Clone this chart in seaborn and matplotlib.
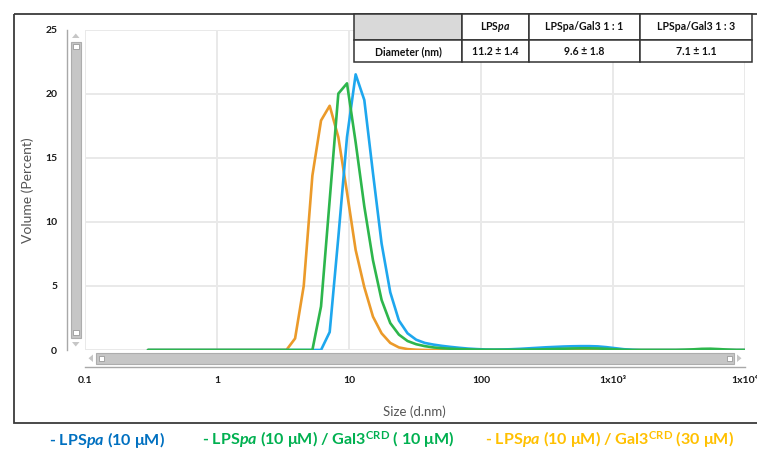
import numpy as np
import pandas as pd
import matplotlib
matplotlib.use("Agg")
import matplotlib.pyplot as plt
import seaborn as sns
from matplotlib.patches import Rectangle, Polygon

# size classes (d.nm) and volume distributions (%)
sizes = [0.3, 0.3489, 0.4057, 0.4718, 0.5487, 0.6381, 0.742, 0.8629, 1.004, 1.167,
         1.357, 1.578, 1.835, 2.134, 2.482, 2.887, 3.357, 3.904, 4.54, 5.279,
         6.139, 7.14, 8.303, 9.656, 11.23, 13.06, 15.19, 17.66, 20.54, 23.88,
         27.77, 32.3, 37.56, 43.68, 50.8, 59.07, 68.7, 79.89, 92.91, 108.0,
         125.6, 146.1, 169.9, 197.6, 229.8, 267.2, 310.8, 361.4, 420.3, 488.8,
         568.4, 661.0, 768.7, 893.9, 1040, 1209, 1406, 1635, 1901, 2211,
         2571, 2990, 3477, 4044, 4703, 5469, 6360, 7396, 8601, 10000]

lps = [0, 0, 0, 0, 0, 0, 0, 0, 0, 0,
       0, 0, 0, 0, 0, 0, 0, 0, 0, 0,
       0, 1.4, 8.8, 16.6, 21.5, 19.5, 13.8, 8.3, 4.5, 2.3,
       1.3, 0.8, 0.55, 0.42, 0.32, 0.24, 0.17, 0.11, 0.07, 0.04,
       0.03, 0.04, 0.06, 0.09, 0.13, 0.17, 0.21, 0.24, 0.27, 0.29,
       0.3, 0.3, 0.28, 0.22, 0.14, 0.06, 0.02, 0, 0, 0,
       0, 0, 0, 0, 0, 0, 0, 0, 0, 0]

lps_gal3_11 = [0, 0, 0, 0, 0, 0, 0, 0, 0, 0,
               0, 0, 0, 0, 0, 0, 0, 0, 0, 0,
               3.4, 11.7, 20.0, 20.8, 16.2, 11.2, 7.0, 3.9, 2.1, 1.2,
               0.7, 0.45, 0.3, 0.2, 0.14, 0.1, 0.07, 0.05, 0.03, 0.02,
               0.02, 0.02, 0.02, 0.02, 0.03, 0.04, 0.06, 0.08, 0.1, 0.12,
               0.13, 0.13, 0.12, 0.09, 0.05, 0.02, 0, 0, 0, 0,
               0, 0, 0.02, 0.05, 0.09, 0.1, 0.07, 0.03, 0, 0]

lps_gal3_13 = [0, 0, 0, 0, 0, 0, 0, 0, 0, 0,
               0, 0, 0, 0, 0, 0, 0, 0.9, 5.0, 13.6,
               17.9, 19.05, 16.6, 12.3, 7.8, 4.9, 2.6, 1.3, 0.55, 0.2,
               0.07, 0.02, 0, 0, 0, 0, 0, 0, 0, 0,
               0, 0, 0, 0, 0, 0, 0, 0, 0, 0,
               0, 0, 0, 0, 0, 0, 0, 0, 0, 0,
               0, 0, 0, 0, 0, 0, 0, 0, 0, 0]

samples = ["LPSpa/Gal3 1:3", "LPSpa", "LPSpa/Gal3 1:1"]  # drawing order
line_colors = ["#eb9a2a", "#1ea7ee", "#2db64c"]

table_head = ["", "LPS$\\mathbfit{pa}$", "LPSpa/Gal3 1 : 1", "LPSpa/Gal3 1 : 3"]
table_row = ["Diameter (nm)", "11.2 ± 1.4", "9.6 ± 1.8", "7.1 ± 1.1"]

legend_texts = ["- LPS$\\mathbfit{pa}$ (10 μM)",
                "- LPS$\\mathbfit{pa}$ (10 μM) / Gal3$^{\\mathbf{CRD}}$ ( 10 μM)",
                "- LPS$\\mathbfit{pa}$ (10 μM) / Gal3$^{\\mathbf{CRD}}$ (30 μM)"]
legend_colors = ["#0070c0", "#00b050", "#ffc000"]

x_ticks = [0.1, 1, 10, 100, 1000, 10000]
x_ticklabels = ["0.1", "1", "10", "100", "1x10³", "1x10⁴"]
y_ticks = [0, 5, 10, 15, 20, 25]

df = pd.DataFrame({
    "size": sizes * 3,
    "volume": lps_gal3_13 + lps + lps_gal3_11,
    "sample": [samples[0]] * len(sizes) + [samples[1]] * len(sizes) + [samples[2]] * len(sizes),
})

sns.set_theme(style="white")
plt.rcParams['font.family'] = ['Lato', 'DejaVu Sans']
plt.rcParams['mathtext.fontset'] = 'custom'
plt.rcParams['mathtext.rm'] = 'Lato'
plt.rcParams['mathtext.it'] = 'Lato:italic'
plt.rcParams['mathtext.bf'] = 'Lato:bold'
plt.rcParams['mathtext.bfit'] = 'Lato:italic:bold'

W, H = 757, 450
fig = plt.figure(figsize=(W / 100, H / 100), dpi=100)
ax = fig.add_axes([85 / W, 1 - 350 / H, 660 / W, 320.5 / H])

sns.lineplot(data=df, x="size", y="volume", hue="sample", hue_order=samples,
             palette=line_colors, linewidth=1.9, legend=False, errorbar=None, ax=ax)

ax.set_xscale("log")
ax.set_xlim(0.1, 10000)
ax.set_ylim(0, 25)
ax.set_xticks(x_ticks)
ax.set_xticklabels(x_ticklabels)
ax.set_yticks(y_ticks)
ax.minorticks_off()
ax.grid(True, color="#e9e9e9", linewidth=1.4)
ax.set_axisbelow(True)
for s in ["top", "right"]:
    ax.spines[s].set_visible(False)
ax.spines["left"].set_position(("outward", 13))
ax.spines["bottom"].set_position(("outward", 12))
for s in ["left", "bottom"]:
    ax.spines[s].set_color("#a8a8a8")
    ax.spines[s].set_linewidth(1.0)
ax.tick_params(axis="both", which="major", direction="out", length=4, width=1,
               color="#a8a8a8", labelsize=7.5, labelcolor="#1a1a1a", pad=3)
for lab in ax.get_xticklabels() + ax.get_yticklabels():
    lab.set_fontweight("bold")
ax.set_xlabel("")
ax.set_ylabel("")

# overlay in pixel coordinates for frame, table, scrollbars and labels
ov = fig.add_axes([0, 0, 1, 1], zorder=5)
ov.set_xlim(0, W)
ov.set_ylim(H, 0)
ov.axis("off")
ov.patch.set_alpha(0)

ov.add_patch(Rectangle((14, 14), 780, 409, fill=False, edgecolor="#3a3a3a", lw=1.3, clip_on=False))

# scrollbars
bar_c, bar_e = "#c6c6c6", "#adadad"
ov.add_patch(Rectangle((71, 42), 9.5, 296, fc=bar_c, ec=bar_e, lw=0.8))
ov.add_patch(Rectangle((73, 44), 5.5, 5, fc="white", ec="#9a9a9a", lw=0.6))
ov.add_patch(Rectangle((73, 330), 5.5, 5, fc="white", ec="#9a9a9a", lw=0.6))
ov.add_patch(Polygon([(72, 38), (79.5, 38), (75.75, 33.5)], fc="#c6c6c6", ec="none"))
ov.add_patch(Polygon([(72, 342), (79.5, 342), (75.75, 346.5)], fc="#c6c6c6", ec="none"))
ov.add_patch(Rectangle((96, 353), 638, 10.5, fc=bar_c, ec=bar_e, lw=0.8))
ov.add_patch(Rectangle((98.5, 355.5), 5, 5.5, fc="white", ec="#9a9a9a", lw=0.6))
ov.add_patch(Rectangle((726.5, 355.5), 5, 5.5, fc="white", ec="#9a9a9a", lw=0.6))
ov.add_patch(Polygon([(93, 354.5), (93, 362), (88.5, 358.25)], fc="#c6c6c6", ec="none"))
ov.add_patch(Polygon([(737, 354.5), (737, 362), (741.5, 358.25)], fc="#c6c6c6", ec="none"))

# axis labels
ov.text(28, 190, "Volume (Percent)", rotation=90, ha="center", va="center",
        fontsize=10, color="#555555")
ov.text(414, 412, "Size (d.nm)", ha="center", va="center", fontsize=9.5, color="#555555")

# table
col_edges = [354, 462, 529, 640, 752]
row_edges = [14, 40, 62]
for i in range(4):
    fc = "#d9d9d9" if i == 0 else "white"
    ov.add_patch(Rectangle((col_edges[i], row_edges[0]), col_edges[i + 1] - col_edges[i],
                           row_edges[1] - row_edges[0], fc=fc, ec="#333333", lw=1.1))
    ov.add_patch(Rectangle((col_edges[i], row_edges[1]), col_edges[i + 1] - col_edges[i],
                           row_edges[2] - row_edges[1], fc="white", ec="#333333", lw=1.1))
    cx = (col_edges[i] + col_edges[i + 1]) / 2
    ov.text(cx, 27, table_head[i], ha="center", va="center", fontsize=7.6, fontweight="bold", color="#111111")
    ov.text(cx, 51.5, table_row[i], ha="center", va="center", fontsize=7.6, fontweight="bold", color="#111111")

# legend
for x, t, c in zip([49, 202, 485], legend_texts, legend_colors):
    ov.text(x, 440, t, ha="left", va="center", fontsize=11.6, fontweight="bold", color=c)

fig.savefig("out.png", dpi=100)
